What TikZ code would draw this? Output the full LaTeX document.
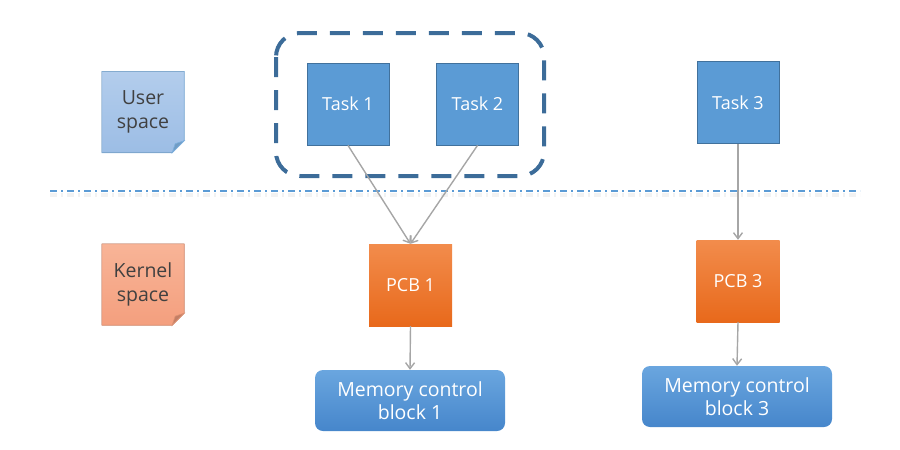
\documentclass[tikz,border=0pt]{standalone}
\usepackage{fontspec}
\setmainfont{Open Sans}
\usetikzlibrary{arrows.meta,calc,backgrounds}

\definecolor{taskblue}{HTML}{5B9BD5}
\definecolor{taskline}{HTML}{41719C}
\definecolor{grpblue}{HTML}{3C6C99}
\definecolor{pcbtop}{HTML}{F28C4C}
\definecolor{pcbbot}{HTML}{E8691B}
\definecolor{memtop}{HTML}{6AA6DF}
\definecolor{membot}{HTML}{4686CB}
\definecolor{usertop}{HTML}{B3CDEC}
\definecolor{userbot}{HTML}{9CBDE5}
\definecolor{kerntop}{HTML}{F8B497}
\definecolor{kernbot}{HTML}{F49F7E}
\definecolor{arrowgray}{HTML}{A6A6A6}
\definecolor{notetext}{HTML}{404040}

\begin{document}
\begin{tikzpicture}[x=1pt,y=-1pt]
\tikzset{task/.style = {shape=rectangle,draw=taskline,line width=0.8pt,fill=taskblue,minimum width=82pt,minimum height=82pt,text=white,font=\fontsize{18}{22}\selectfont}}
\tikzset{pcb/.style = {shape=rectangle,draw=none,top color=pcbtop,bottom color=pcbbot,minimum width=83pt,minimum height=82pt,text=white,font=\fontsize{18}{22}\selectfont}}
\tikzset{memblock/.style = {shape=rectangle,rounded corners=8pt,draw=none,top color=memtop,bottom color=membot,minimum width=190pt,minimum height=61pt,text=white,align=center,inner sep=2pt,font=\fontsize{19.5}{23}\selectfont}}
\tikzset{note/.style = {shape=rectangle,minimum width=82pt,minimum height=81pt,text=notetext,align=center,inner sep=1pt,font=\fontsize{19.5}{24}\selectfont}}
\tikzset{edge/.style = {-{Straight Barb[length=6pt,width=9pt]},draw=arrowgray,line width=1.4pt}}
\tikzset{sep/.style = {draw=taskblue,line width=1.8pt,dash pattern=on 7pt off 4pt on 2pt off 4pt}}
\tikzset{grp/.style = {draw=grpblue,line width=4pt,rounded corners=24pt,dash pattern=on 20pt off 13pt}}

\useasboundingbox (0,0) rectangle (900,450);

%notes
\node[note] (user) at (143,112) {User\\space};
\node[note] (kern) at (143,284.5) {Kernel\\space};
\begin{scope}[on background layer]
\fill[top color=usertop,bottom color=userbot,draw=taskblue!80,line width=0.6pt]
  (user.north west) -- (user.north east) -- ($(user.south east)+(0,-12)$) -- ($(user.south east)+(-12,0)$) -- (user.south west) -- cycle;
\fill[taskblue!85!black!80,draw=taskblue!80,line width=0.6pt]
  ($(user.south east)+(0,-12)$) -- ($(user.south east)+(-9,-9)$) -- ($(user.south east)+(-12,0)$) -- cycle;
\fill[top color=kerntop,bottom color=kernbot,draw=kernbot!90!black,line width=0.6pt]
  (kern.north west) -- (kern.north east) -- ($(kern.south east)+(0,-12)$) -- ($(kern.south east)+(-12,0)$) -- (kern.south west) -- cycle;
\fill[kernbot!80!black,draw=kernbot!90!black,line width=0.6pt]
  ($(kern.south east)+(0,-12)$) -- ($(kern.south east)+(-9,-9)$) -- ($(kern.south east)+(-12,0)$) -- cycle;
\end{scope}

%separator
\coordinate (sepL) at (50,191);
\coordinate (sepR) at (860,191);
\draw[sep,draw=black,opacity=0.05,line width=4pt] ($(sepL)+(0,4)$) -- ($(sepR)+(0,4)$);
\draw[sep] (sepL) -- (sepR);

%tasks
\node[task] (t1) at (348,104) {Task 1};
\node[task] (t2) at (477.5,104) {Task 2};
\node[task] (t3) at (738,102.5) {Task 3};
\draw[grp] (276,33) rectangle (544,176);

%kernel side
\node[pcb] (p1) at (410.5,285) {PCB 1};
\node[pcb] (p3) at (738,281) {PCB 3};
\node[memblock] (m1) at (410,400.5) {Memory control\\block 1};
\node[memblock] (m3) at (737,396.5) {Memory control\\block 3};

%edges
\draw[edge] (t1.south) to (p1.north);
\draw[edge] (t2.south) to (p1.north);
\draw[edge] (t3.south) to (p3.north);
\draw[edge] (p1.south) to (m1.north);
\draw[edge] (p3.south) to (m3.north);
\end{tikzpicture}
\end{document}
